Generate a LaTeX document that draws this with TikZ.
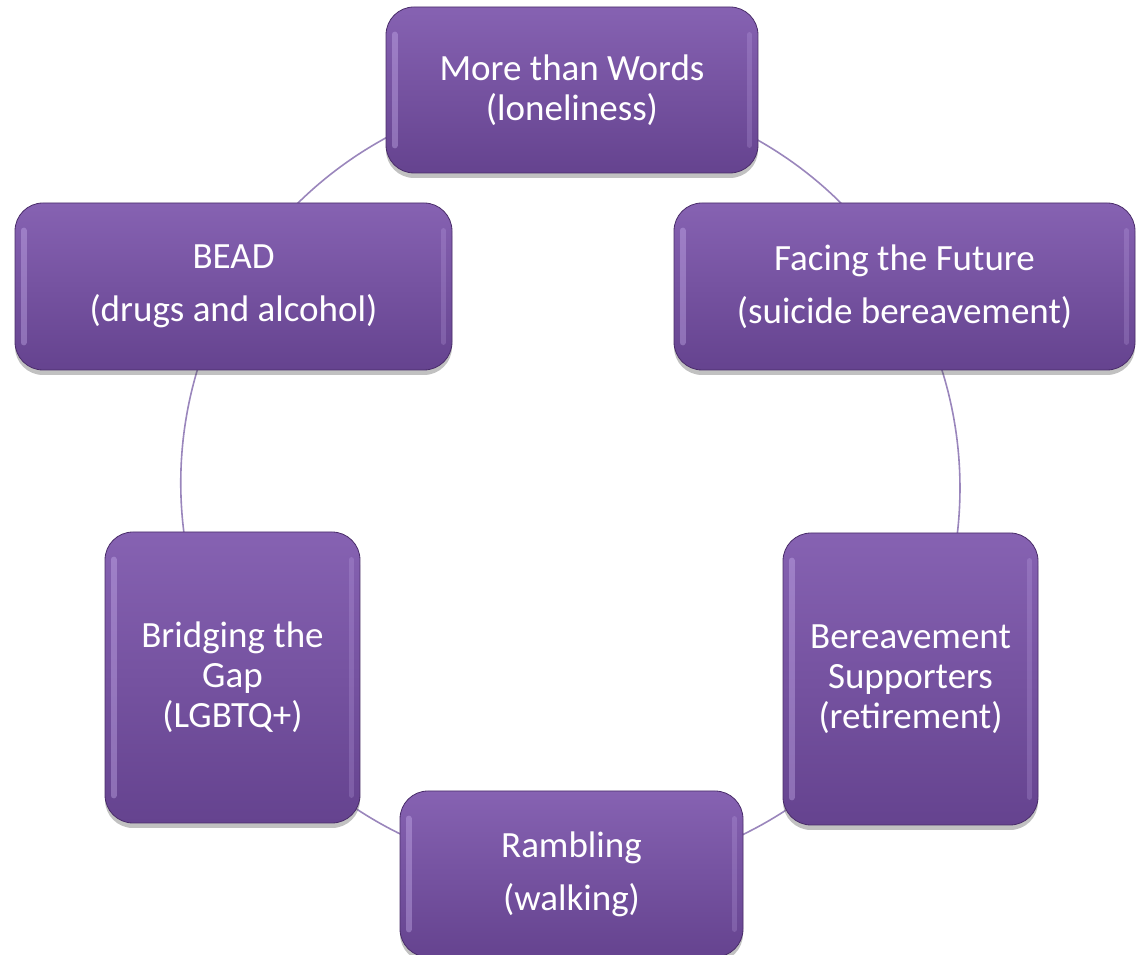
\documentclass[tikz,border=0pt]{standalone}
\usepackage{fontspec}
\setmainfont{Carlito}
\usetikzlibrary{backgrounds,shadows}

\definecolor{boxtop}{HTML}{8662B2}
\definecolor{boxbot}{HTML}{65438F}
\definecolor{boxedge}{HTML}{4A2D6A}
\definecolor{ringline}{HTML}{9A86BC}
\definecolor{bevellight}{HTML}{D4BEF7}

\tikzset{
  groupbox/.style={draw=boxedge, line width=0.8pt, top color=boxtop, bottom color=boxbot,
    rounded corners=28pt, text=white, align=center, inner sep=0pt,
    font=\fontsize{37}{40}\selectfont,
    drop shadow={shadow xshift=0pt, shadow yshift=-5pt, opacity=0.35, fill=black!70}},
  ring/.style={draw=ringline, line width=1.6pt},
  bevel/.style={draw=bevellight, line width=6pt, line cap=round, opacity=0.35},
  bevelsoft/.style={draw=bevellight, line width=5pt, line cap=round, opacity=0.2},
}

\begin{document}
\begin{tikzpicture}[x=1pt,y=1pt]
  \useasboundingbox (0,0) rectangle (1136,955);

  % the six groups, placed round a ring
  \node[groupbox, minimum width=372pt, minimum height=166pt] (more) at (572,865)
    {More than Words\\(loneliness)};
  \node[groupbox, minimum width=461pt, minimum height=167pt] (face) at (904.5,668.5)
    {Facing the Future\\[13pt](suicide bereavement)};
  \node[groupbox, minimum width=255pt, minimum height=292pt] (berv) at (910.5,276)
    {Bereavement\\Supporters\\(retirement)};
  \node[groupbox, minimum width=343pt, minimum height=166pt] (ramb) at (571.5,81)
    {Rambling\\[13pt](walking)};
  \node[groupbox, minimum width=255pt, minimum height=291pt] (brid) at (232.5,277.5)
    {Bridging the\\Gap\\(LGBTQ+)};
  \node[groupbox, minimum width=437pt, minimum height=167pt] (bead) at (233.5,668.5)
    {BEAD\\[13pt](drugs and alcohol)};

  % light bevel along the inner sides of each box
  \foreach \n in {more,face,berv,ramb,brid,bead} {
    \draw[bevel] ([xshift=9pt,yshift=-28pt]\n.north west) -- ([xshift=9pt,yshift=28pt]\n.south west);
    \draw[bevelsoft] ([xshift=-9pt,yshift=-28pt]\n.north east) -- ([xshift=-9pt,yshift=28pt]\n.south east);
  }

  % ring segments joining neighbouring groups
  \begin{scope}[on background layer]
    \draw[ring] (more.center) to[bend left=30, looseness=0.91] (face.center);
    \draw[ring] (face.center) to[bend left=30, looseness=0.91] (berv.center);
    \draw[ring] (berv.center) to[bend left=30, looseness=0.91] (ramb.center);
    \draw[ring] (ramb.center) to[bend left=30, looseness=0.91] (brid.center);
    \draw[ring] (brid.center) to[bend left=30, looseness=0.91] (bead.center);
    \draw[ring] (bead.center) to[bend left=30, looseness=0.91] (more.center);
  \end{scope}
\end{tikzpicture}
\end{document}
